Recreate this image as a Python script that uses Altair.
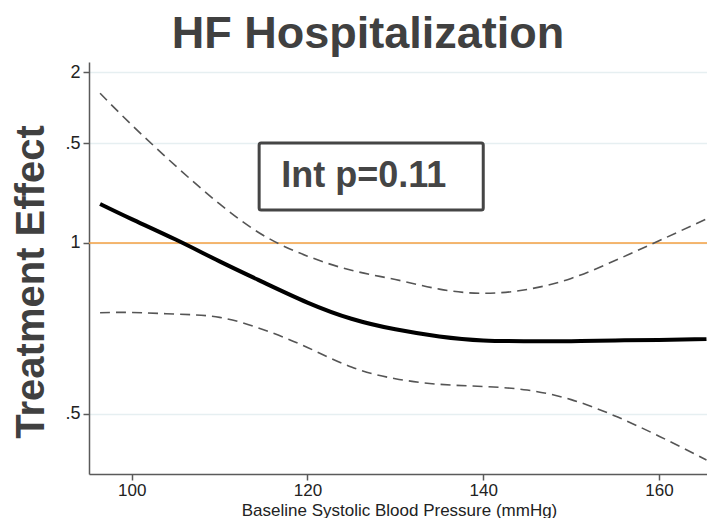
import altair as alt
import pandas as pd

# ---- data ----
x_vals = [96.4, 100, 105, 110, 115, 120, 125, 130, 135, 140, 145, 150, 155, 160, 165.4]
estimate = [1.172, 1.102, 1.014, 0.928, 0.852, 0.785, 0.735, 0.704, 0.684, 0.673,
            0.671, 0.671, 0.673, 0.674, 0.677]
upper_ci = [1.838, 1.616, 1.368, 1.172, 1.031, 0.948, 0.895, 0.862, 0.829, 0.815,
            0.828, 0.866, 0.931, 1.009, 1.103]
lower_ci = [0.753, 0.754, 0.749, 0.739, 0.703, 0.654, 0.604, 0.576, 0.563, 0.558,
            0.550, 0.529, 0.495, 0.456, 0.414]

x_ticks = [100, 120, 140, 160]
y_ticks = [0.5, 1, 1.5, 2]
y_tick_labels = [".5", "1", ".5", "2"]
ref_value = [1]

box_x = [114.5]
box_x2 = [140.0]
box_y = [1.502]
box_y2 = [1.1435]
note_x = [126.4]
note_y = [1.313]
note_text = ["Int p=0.11"]

x_domain = [95.14, 165.46]
y_domain = [0.391, 2.087]

FONT = "Liberation Sans"

df = pd.DataFrame({"x": x_vals, "est": estimate, "up": upper_ci, "lo": lower_ci})

label_expr = " : ".join(
    f"datum.value == {v} ? '{l}'" for v, l in zip(y_ticks, y_tick_labels)
) + " : ''"

xs = alt.Scale(domain=x_domain, nice=False, zero=False)
ys = alt.Scale(type="log", domain=y_domain, nice=False, zero=False)

x_axis = alt.Axis(values=x_ticks, grid=False, title="Baseline Systolic Blood Pressure (mmHg)",
                  labelFontSize=17, labelPadding=2,
                  titleX=310, titleY=41, titleAlign="center", titleBaseline="alphabetic",
                  titleFontSize=17, titleFontWeight="normal", titleColor="#222222",
                  titleFont=FONT)
y_axis = alt.Axis(values=y_ticks, labelExpr=label_expr, grid=True, gridColor="#e6eff1",
                  gridWidth=1.5, title="Treatment Effect", titleAngle=270,
                  titleX=-46, titleY=219.5, titleAlign="center", titleBaseline="alphabetic",
                  titleFontSize=40, titleFontWeight="bold", titleColor="#404040",
                  titleFont=FONT)

base = alt.Chart(df)

upper_line = base.mark_line(color="#555555", strokeWidth=1.6, strokeDash=[10, 6],
                            interpolate="natural").encode(
    x=alt.X("x:Q", scale=xs, axis=x_axis),
    y=alt.Y("up:Q", scale=ys, axis=y_axis),
)
lower_line = base.mark_line(color="#555555", strokeWidth=1.6, strokeDash=[10, 6],
                            interpolate="natural").encode(
    x=alt.X("x:Q", scale=xs), y=alt.Y("lo:Q", scale=ys))
est_line = base.mark_line(color="#000000", strokeWidth=4,
                          interpolate="natural").encode(
    x=alt.X("x:Q", scale=xs), y=alt.Y("est:Q", scale=ys))

ref = alt.Chart(pd.DataFrame({"y": ref_value})).mark_rule(
    color="#f5a142", strokeWidth=1.6).encode(y=alt.Y("y:Q", scale=ys))

box = alt.Chart(pd.DataFrame({"x": box_x, "x2": box_x2, "y": box_y, "y2": box_y2})).mark_rect(
    fillOpacity=0, stroke="#454545", strokeWidth=3, cornerRadius=2).encode(
    x=alt.X("x:Q", scale=xs), x2="x2:Q", y=alt.Y("y:Q", scale=ys), y2="y2:Q")

note = alt.Chart(pd.DataFrame({"x": note_x, "y": note_y, "t": note_text})).mark_text(
    font=FONT, fontSize=36, fontWeight="bold", color="#454545",
    align="center", baseline="middle").encode(
    x=alt.X("x:Q", scale=xs), y=alt.Y("y:Q", scale=ys), text="t:N")

chart = alt.layer(ref, upper_line, lower_line, est_line, box, note).properties(
    width=618, height=412,
    autosize=alt.AutoSizeParams(type="none"),
    padding={"left": 81, "top": 54, "right": 0, "bottom": 44},
    title=alt.TitleParams("HF Hospitalization", font=FONT, fontSize=45, fontWeight="bold",
                          color="#404040", anchor="middle", dx=-30, offset=5),
).configure_view(stroke=None).configure_axis(
    domainColor="#5a5a5a", domainWidth=1.5, tickColor="#5a5a5a", tickSize=6, tickWidth=1.5,
    labelFont=FONT, labelFontSize=18, labelColor="#222222", labelPadding=3,
)

chart.save("out.html", embed_options={"renderer": "svg", "actions": False})
